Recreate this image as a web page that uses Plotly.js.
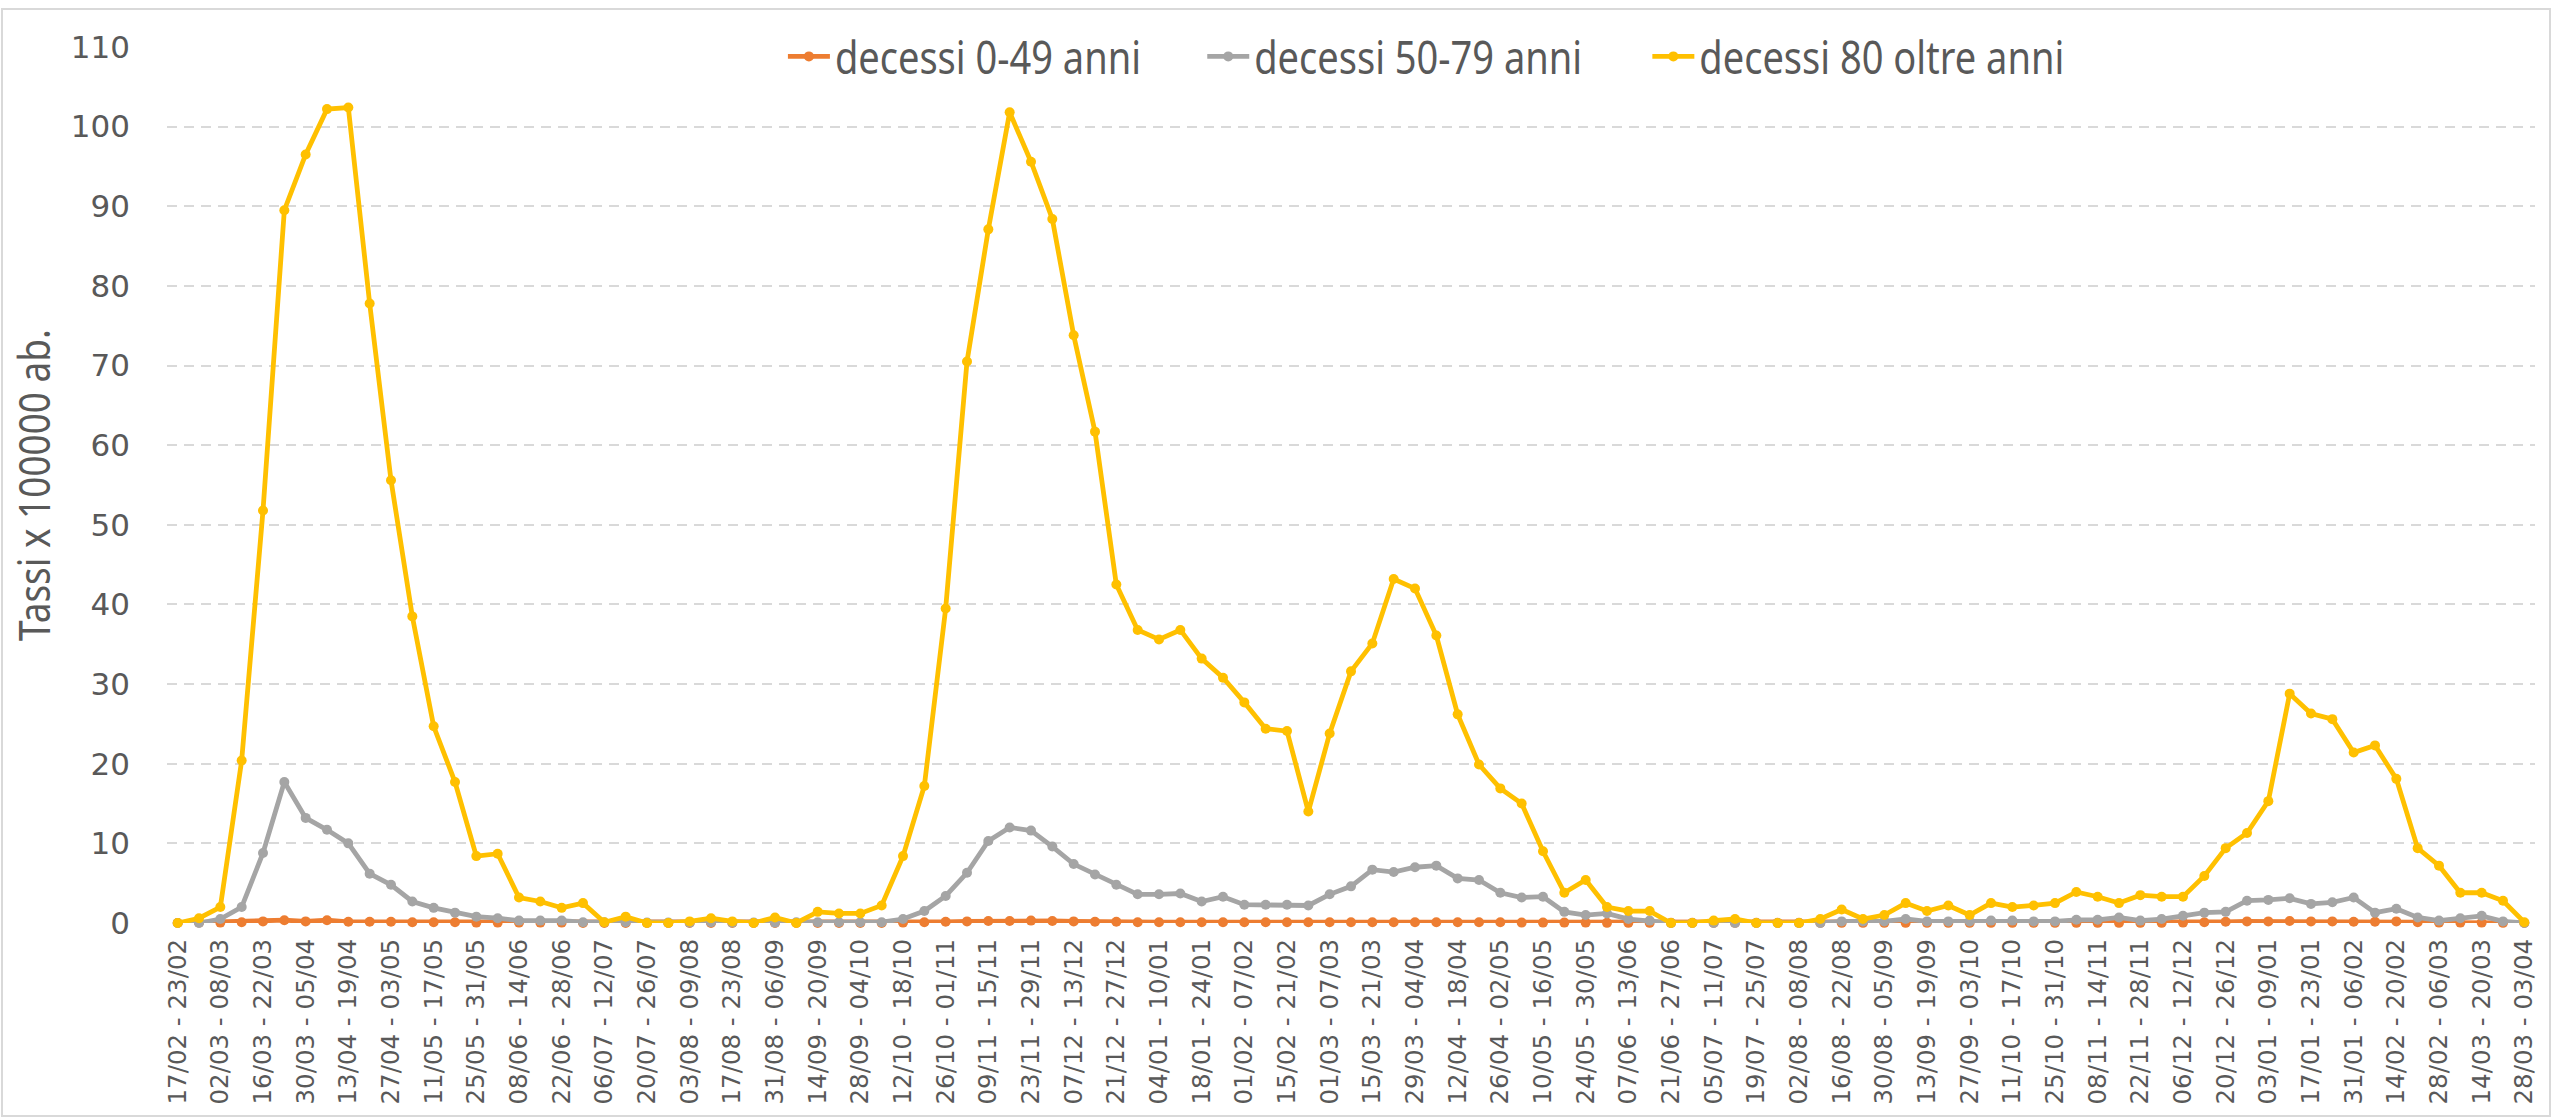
<!DOCTYPE html>
<html>
<head>
<meta charset="utf-8">
<script src="https://cdn.plot.ly/plotly-3.0.1.min.js"></script>
<style>
  html, body { margin: 0; padding: 0; background: #ffffff; }
  #chart { width: 2552px; height: 1118px; }
</style>
</head>
<body>
<div id="chart"></div>
<script>
// Week categories (17/02/2020 - 03/04/2022)
const weeks = [
  "17/02 - 23/02","24/02 - 01/03","02/03 - 08/03","09/03 - 15/03","16/03 - 22/03","23/03 - 29/03",
  "30/03 - 05/04","06/04 - 12/04","13/04 - 19/04","20/04 - 26/04","27/04 - 03/05","04/05 - 10/05",
  "11/05 - 17/05","18/05 - 24/05","25/05 - 31/05","01/06 - 07/06","08/06 - 14/06","15/06 - 21/06",
  "22/06 - 28/06","29/06 - 05/07","06/07 - 12/07","13/07 - 19/07","20/07 - 26/07","27/07 - 02/08",
  "03/08 - 09/08","10/08 - 16/08","17/08 - 23/08","24/08 - 30/08","31/08 - 06/09","07/09 - 13/09",
  "14/09 - 20/09","21/09 - 27/09","28/09 - 04/10","05/10 - 11/10","12/10 - 18/10","19/10 - 25/10",
  "26/10 - 01/11","02/11 - 08/11","09/11 - 15/11","16/11 - 22/11","23/11 - 29/11","30/11 - 06/12",
  "07/12 - 13/12","14/12 - 20/12","21/12 - 27/12","28/12 - 03/01","04/01 - 10/01","11/01 - 17/01",
  "18/01 - 24/01","25/01 - 31/01","01/02 - 07/02","08/02 - 14/02","15/02 - 21/02","22/02 - 28/02",
  "01/03 - 07/03","08/03 - 14/03","15/03 - 21/03","22/03 - 28/03","29/03 - 04/04","05/04 - 11/04",
  "12/04 - 18/04","19/04 - 25/04","26/04 - 02/05","03/05 - 09/05","10/05 - 16/05","17/05 - 23/05",
  "24/05 - 30/05","31/05 - 06/06","07/06 - 13/06","14/06 - 20/06","21/06 - 27/06","28/06 - 04/07",
  "05/07 - 11/07","12/07 - 18/07","19/07 - 25/07","26/07 - 01/08","02/08 - 08/08","09/08 - 15/08",
  "16/08 - 22/08","23/08 - 29/08","30/08 - 05/09","06/09 - 12/09","13/09 - 19/09","20/09 - 26/09",
  "27/09 - 03/10","04/10 - 10/10","11/10 - 17/10","18/10 - 24/10","25/10 - 31/10","01/11 - 07/11",
  "08/11 - 14/11","15/11 - 21/11","22/11 - 28/11","29/11 - 05/12","06/12 - 12/12","13/12 - 19/12",
  "20/12 - 26/12","27/12 - 02/01","03/01 - 09/01","10/01 - 16/01","17/01 - 23/01","24/01 - 30/01",
  "31/01 - 06/02","07/02 - 13/02","14/02 - 20/02","21/02 - 27/02","28/02 - 06/03","07/03 - 13/03",
  "14/03 - 20/03","21/03 - 27/03","28/03 - 03/04"
];

// Tick labels shown on the x axis (every other week)
const tickLabels = [
  "17/02 - 23/02","02/03 - 08/03","16/03 - 22/03","30/03 - 05/04","13/04 - 19/04","27/04 - 03/05",
  "11/05 - 17/05","25/05 - 31/05","08/06 - 14/06","22/06 - 28/06","06/07 - 12/07","20/07 - 26/07",
  "03/08 - 09/08","17/08 - 23/08","31/08 - 06/09","14/09 - 20/09","28/09 - 04/10","12/10 - 18/10",
  "26/10 - 01/11","09/11 - 15/11","23/11 - 29/11","07/12 - 13/12","21/12 - 27/12","04/01 - 10/01",
  "18/01 - 24/01","01/02 - 07/02","15/02 - 21/02","01/03 - 07/03","15/03 - 21/03","29/03 - 04/04",
  "12/04 - 18/04","26/04 - 02/05","10/05 - 16/05","24/05 - 30/05","07/06 - 13/06","21/06 - 27/06",
  "05/07 - 11/07","19/07 - 25/07","02/08 - 08/08","16/08 - 22/08","30/08 - 05/09","13/09 - 19/09",
  "27/09 - 03/10","11/10 - 17/10","25/10 - 31/10","08/11 - 14/11","22/11 - 28/11","06/12 - 12/12",
  "20/12 - 26/12","03/01 - 09/01","17/01 - 23/01","31/01 - 06/02","14/02 - 20/02","28/02 - 06/03",
  "14/03 - 20/03","28/03 - 03/04"
];

const yTickVals = [0,10,20,30,40,50,60,70,80,90,100,110];

// decessi 0-49 anni
const deaths0_49 = [
  0,0.05,0.05,0.1,0.2,0.35,0.2,0.35,0.15,0.15,0.15,0.1,
  0.1,0.1,0.05,0.05,0.05,0.05,0.05,0,0,0,0,0,
  0,0,0,0,0,0,0,0,0,0,0.05,0.1,
  0.15,0.2,0.25,0.25,0.3,0.25,0.2,0.15,0.15,0.1,0.1,0.1,
  0.1,0.1,0.1,0.1,0.1,0.1,0.1,0.1,0.1,0.1,0.1,0.1,
  0.1,0.1,0.1,0.05,0.05,0.05,0.05,0.02,0.02,0.02,0.02,0.02,
  0.02,0.02,0.02,0.02,0.02,0.02,0.02,0.02,0.02,0.02,0.02,0.02,
  0.02,0.02,0.02,0.02,0.02,0.02,0.02,0.02,0.02,0.02,0.05,0.1,
  0.15,0.2,0.2,0.25,0.2,0.2,0.15,0.15,0.2,0.1,0.05,0.05,
  0.05,0.02,0
];

// decessi 50-79 anni
const deaths50_79 = [
  0,0,0.5,2.0,8.8,17.7,13.2,11.7,10.0,6.2,4.8,2.7,
  1.9,1.3,0.8,0.6,0.3,0.3,0.3,0.1,0.1,0.1,0.05,0.05,
  0.05,0.1,0.05,0.05,0.05,0.1,0.1,0.1,0.1,0.1,0.5,1.5,
  3.4,6.3,10.3,12.0,11.6,9.6,7.4,6.1,4.8,3.6,3.6,3.7,
  2.7,3.3,2.3,2.3,2.3,2.2,3.6,4.6,6.7,6.4,7.0,7.2,
  5.6,5.4,3.8,3.2,3.3,1.4,1.0,1.2,0.5,0.3,0,0,
  0,0,0,0,0,0,0.2,0.2,0.2,0.5,0.2,0.2,
  0.2,0.3,0.3,0.2,0.2,0.4,0.4,0.7,0.3,0.5,0.9,1.3,
  1.4,2.8,2.9,3.1,2.4,2.6,3.2,1.3,1.8,0.7,0.3,0.6,
  0.9,0.2,0
];

// decessi 80 oltre anni
const deaths80plus = [
  0,0.6,2.0,20.4,51.8,89.5,96.5,102.2,102.4,77.8,55.6,38.5,
  24.7,17.7,8.4,8.7,3.2,2.7,1.9,2.5,0.1,0.8,0,0,
  0.2,0.6,0.2,0,0.7,0,1.4,1.2,1.2,2.2,8.4,17.2,
  39.5,70.5,87.1,101.8,95.6,88.4,73.8,61.7,42.5,36.8,35.6,36.8,
  33.2,30.8,27.7,24.4,24.1,14.0,23.8,31.6,35.1,43.2,42.0,36.1,
  26.2,19.9,16.9,15.0,9.0,3.8,5.4,2.0,1.5,1.5,0,0,
  0.3,0.5,0,0,0,0.5,1.7,0.5,1.0,2.5,1.5,2.2,
  1.0,2.5,2.0,2.2,2.5,3.9,3.3,2.5,3.5,3.3,3.3,5.9,
  9.4,11.3,15.3,28.8,26.3,25.6,21.4,22.3,18.1,9.4,7.2,3.8,
  3.8,2.8,0.1
];

const seriesNames = ["decessi 0-49 anni","decessi 50-79 anni","decessi 80 oltre anni"];
const seriesColors = ["#ED7D31","#A5A5A5","#FFC000"];
const seriesData = [deaths0_49, deaths50_79, deaths80plus];

const narrow = "'Noto Sans', sans-serif";
const wide = "'DejaVu Sans', Verdana, sans-serif";

const traces = seriesData.map((vals, k) => ({
  type: "scatter",
  mode: "lines+markers",
  name: seriesNames[k],
  x: weeks,
  y: vals,
  line: { color: seriesColors[k], width: 4.8 },
  marker: { color: seriesColors[k], size: 10, symbol: "circle" },
  cliponaxis: false
}));

const layout = {
  width: 2552,
  height: 1118,
  paper_bgcolor: "#ffffff",
  plot_bgcolor: "#ffffff",
  margin: { l: 167, r: 17, t: 47, b: 195, pad: 0 },
  showlegend: true,
  legend: {
    orientation: "h",
    x: 0.2601, xanchor: "left",
    y: 0.989, yanchor: "middle",
    bgcolor: "#ffffff",
    font: { family: narrow, size: 45, color: "#595959" },
    itemwidth: 42,
    tracegroupgap: 0
  },
  xaxis: {
    type: "category",
    range: [-0.5, weeks.length - 0.5],
    tickmode: "array",
    tickvals: tickLabels,
    ticktext: tickLabels,
    tickangle: -90,
    tickfont: { family: wide, size: 24.5, color: "#595959" },
    showgrid: false,
    zeroline: false,
    showline: false,
    ticks: "",
    ticklabelstandoff: 10,
    automargin: false,
    fixedrange: true
  },
  yaxis: {
    range: [0, 110],
    tickmode: "array",
    tickvals: yTickVals,
    ticktext: yTickVals.map(String),
    tickfont: { family: wide, size: 31, color: "#595959" },
    showgrid: true,
    gridcolor: "#D9D9D9",
    gridwidth: 2,
    griddash: "10px,7px",
    zeroline: false,
    showline: false,
    ticks: "",
    ticklabelstandoff: 36,
    automargin: false,
    title: {
      text: "Tassi x 100000 ab.",
      font: { family: narrow, size: 44, color: "#595959" },
      standoff: 6
    },
    fixedrange: true
  },
  shapes: [{
    type: "rect", xref: "paper", yref: "paper",
    x0: -165 / 2368, x1: 1 + 15 / 2368,
    y0: -193 / 876, y1: 1 + 38 / 876,
    line: { color: "#D9D9D9", width: 2 },
    fillcolor: "rgba(0,0,0,0)",
    layer: "below"
  }]
};

// horizontal condensing of the narrow-font texts (the source uses a condensed face)
const legendSqueeze = 0.845;
const titleSqueeze = 0.84;

function condenseTexts(gd) {
  gd.querySelectorAll(".legendtext").forEach(t => {
    const x = parseFloat(t.getAttribute("x")) || 0;
    t.setAttribute("transform", `translate(${x * (1 - legendSqueeze)},0) scale(${legendSqueeze},1)`);
  });
  const yt = gd.querySelector(".ytitle");
  if (yt) {
    const x = parseFloat(yt.getAttribute("x")) || 0;
    const y = parseFloat(yt.getAttribute("y")) || 0;
    yt.setAttribute("transform",
      `rotate(-90,${x},${y}) translate(${x},${y}) scale(${titleSqueeze},1) translate(${-x},${-y})`);
  }
}

Plotly.newPlot("chart", traces, layout, { displayModeBar: false, staticPlot: true })
  .then(gd => condenseTexts(gd));
</script>
</body>
</html>
